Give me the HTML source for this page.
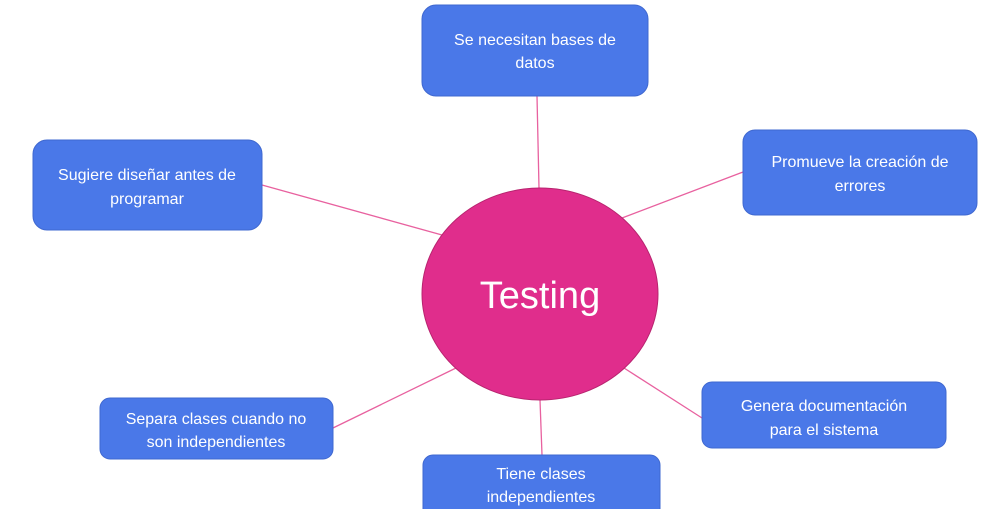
<!DOCTYPE html>
<html><head><meta charset="utf-8"><style>
html,body{margin:0;padding:0;background:#fff;width:989px;height:509px;overflow:hidden}
svg{display:block}
text{font-family:"Liberation Sans",sans-serif;fill:#fff}
</style></head><body>
<svg width="989" height="509" viewBox="0 0 989 509">
<g stroke="#e8619f" stroke-width="1.3">
<line x1="537" y1="96" x2="539" y2="188"/>
<line x1="262" y1="185" x2="442" y2="235"/>
<line x1="743" y1="172" x2="622" y2="218"/>
<line x1="702" y1="418" x2="624" y2="368"/>
<line x1="333" y1="428" x2="456" y2="368"/>
<line x1="540" y1="400" x2="542" y2="455"/>
</g>
<ellipse cx="540" cy="294" rx="118" ry="106" fill="#e02d8c" stroke="#b8246f" stroke-width="1"/>
<text x="540" y="308" font-size="38" text-anchor="middle">Testing</text>
<g fill="#4a78e8" stroke="#3f68d0" stroke-width="1">
<rect x="422" y="5" width="226" height="91" rx="14"/>
<rect x="33" y="140" width="229" height="90" rx="14"/>
<rect x="743" y="130" width="234" height="85" rx="12"/>
<rect x="702" y="382" width="244" height="66" rx="10"/>
<rect x="100" y="398" width="233" height="61" rx="10"/>
<rect x="423" y="455" width="237" height="64" rx="10"/>
</g>
<g font-size="16" text-anchor="middle">
<text x="535" y="45">Se necesitan bases de</text>
<text x="535" y="68">datos</text>
<text x="147" y="180">Sugiere  diseñar antes de</text>
<text x="147" y="204">programar</text>
<text x="860" y="167">Promueve la creación de</text>
<text x="860" y="191">errores</text>
<text x="824" y="411">Genera documentación</text>
<text x="824" y="435">para el sistema</text>
<text x="216" y="424">Separa clases cuando no</text>
<text x="216" y="447">son independientes</text>
<text x="541" y="479">Tiene clases</text>
<text x="541" y="502">independientes</text>
</g>
</svg>
</body></html>
